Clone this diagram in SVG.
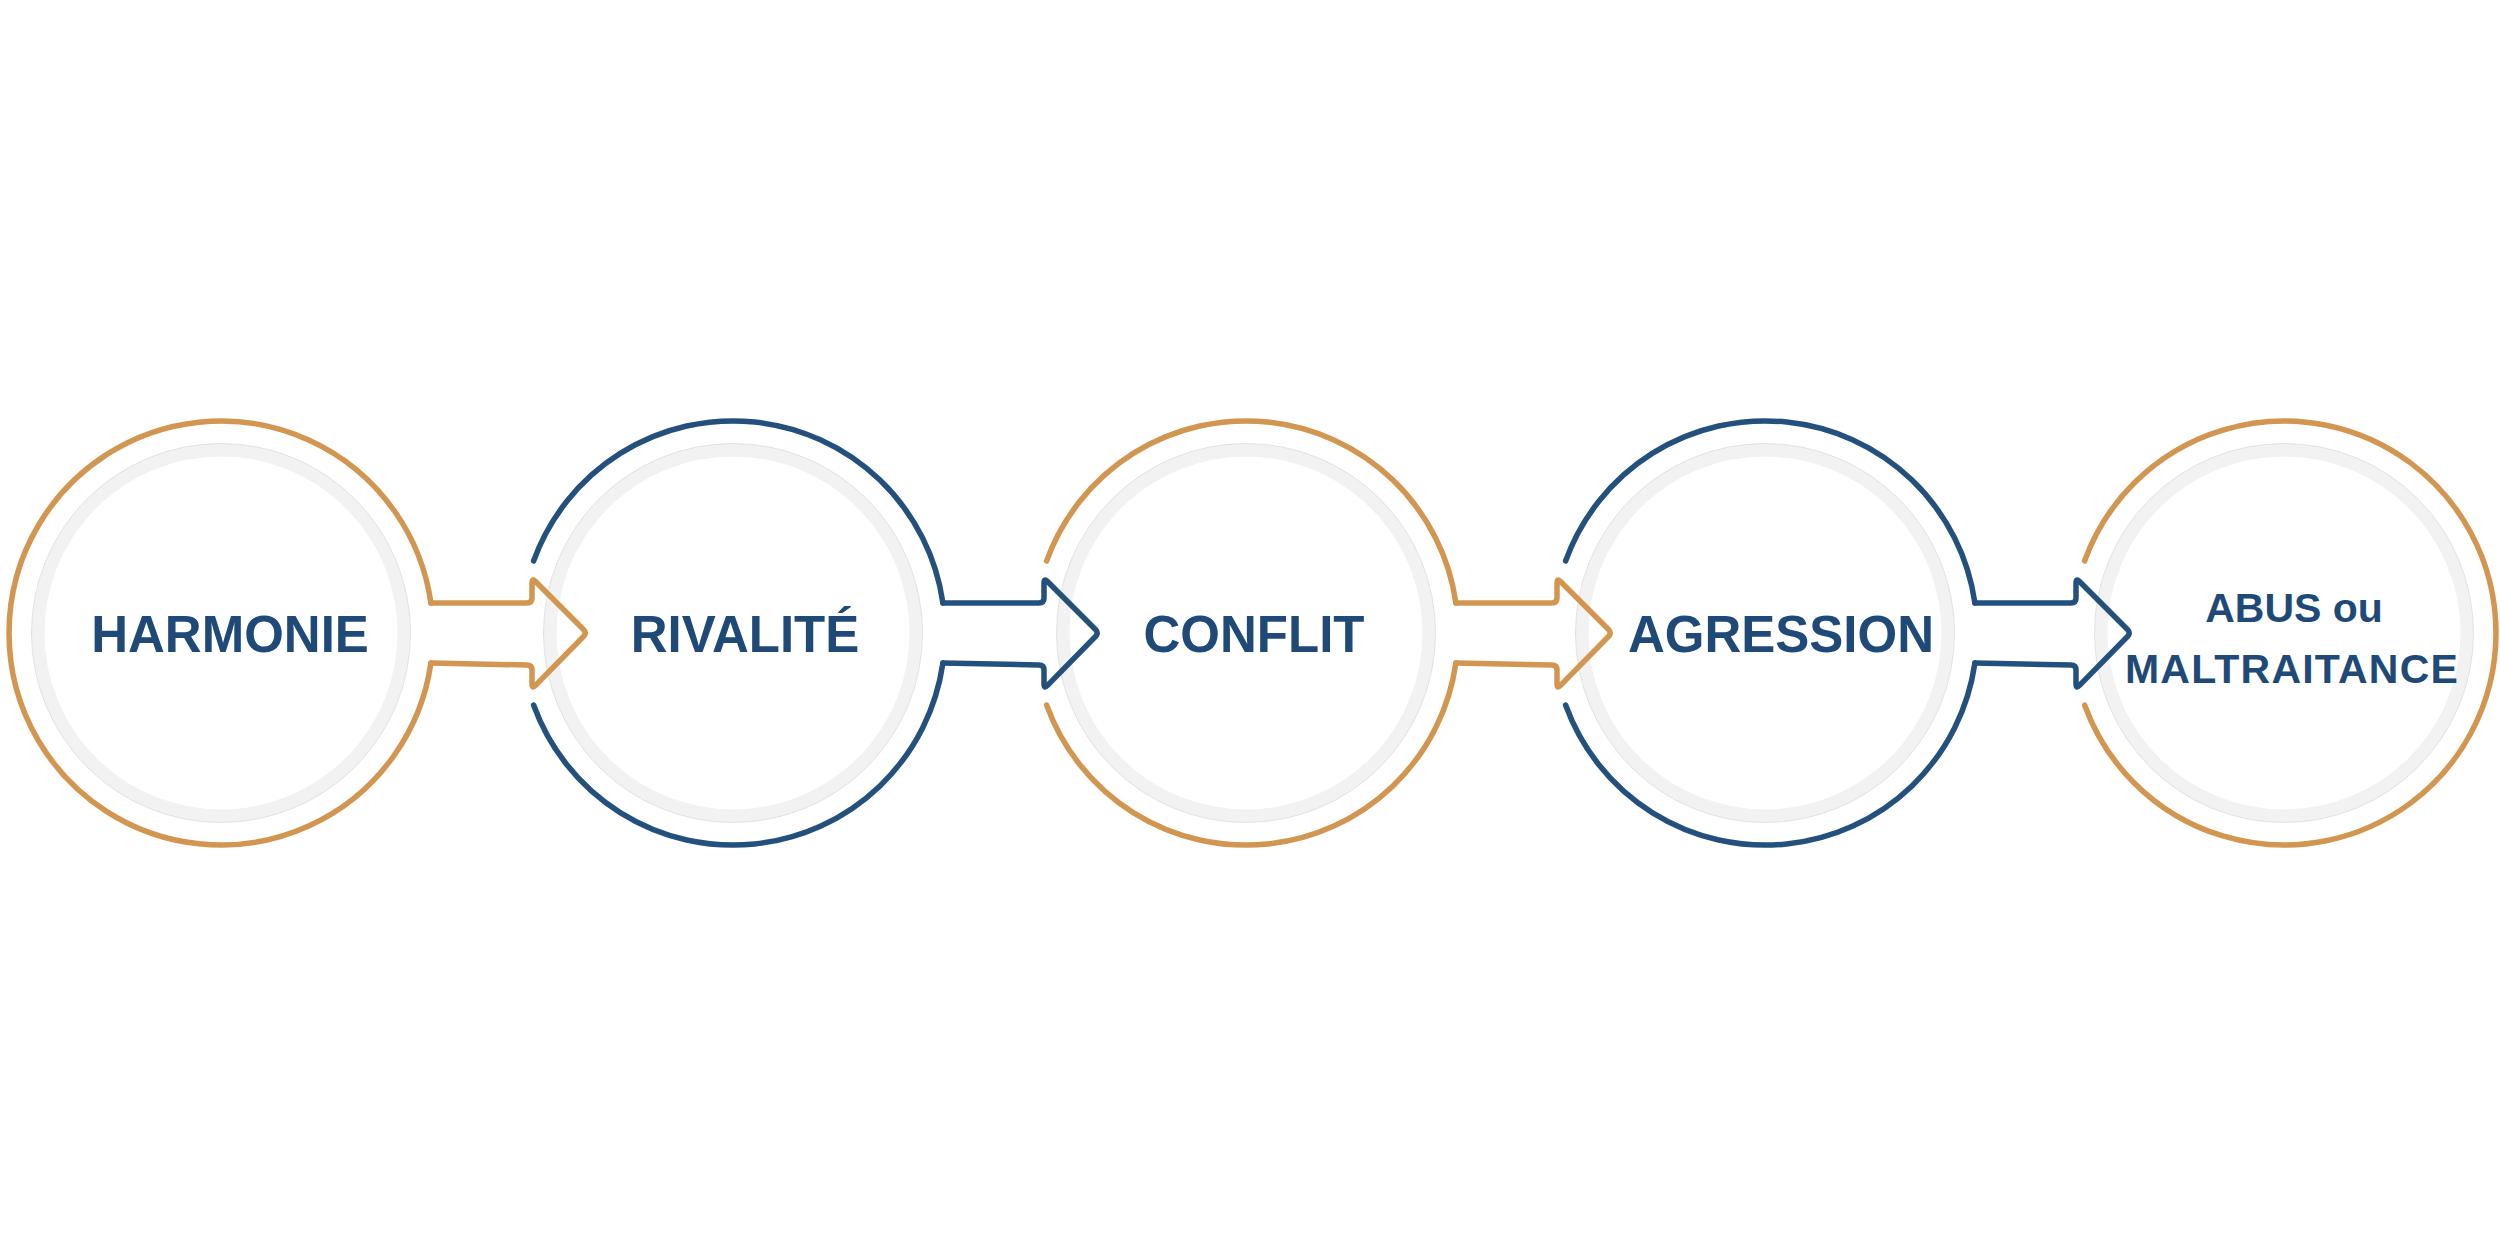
<svg xmlns="http://www.w3.org/2000/svg" width="2500" height="1250" viewBox="0 0 2500 1250">
<style>
.bg{fill:#ffffff}
.gray{fill:none;stroke:#f2f2f2;stroke-width:13}
.edge{fill:none;stroke:#dcdcdc;stroke-width:0.8}
.ring{fill:none;stroke-width:5.5;stroke-linecap:round;stroke-linejoin:round}
.or{stroke:#d39651}
.bl{stroke:#24507d}
.lbl{font-family:"Liberation Sans",Arial,sans-serif;font-weight:bold;font-size:51px;fill:#1f4a78;text-anchor:middle}
.lbl2{font-size:41px}
</style>
<rect class="bg" x="0" y="0" width="2500" height="1250"/>
<g id="node-harmonie">
<circle class="gray" cx="221" cy="633" r="183"/>
<circle class="edge" cx="221" cy="633" r="189.5"/>
<path class="ring or" d="M 430.9 663 A 212 212 0 1 1 430.9 603"/>
<text class="lbl" x="230" y="652">HARMONIE</text>
</g>
<g id="node-rivalite">
<circle class="gray" cx="733" cy="633" r="183"/>
<circle class="edge" cx="733" cy="633" r="189.5"/>
<path class="ring bl" d="M 533.6 561 A 212 212 0 0 1 942.9 603 M 942.9 663 A 212 212 0 0 1 533.6 705"/>
<text class="lbl" x="745" y="652">RIVALITÉ</text>
</g>
<g id="node-conflit">
<circle class="gray" cx="1246" cy="633" r="183"/>
<circle class="edge" cx="1246" cy="633" r="189.5"/>
<path class="ring or" d="M 1046.6 561 A 212 212 0 0 1 1455.9 603 M 1455.9 663 A 212 212 0 0 1 1046.6 705"/>
<text class="lbl" x="1254" y="652">CONFLIT</text>
</g>
<g id="node-agression">
<circle class="gray" cx="1765" cy="633" r="183"/>
<circle class="edge" cx="1765" cy="633" r="189.5"/>
<path class="ring bl" d="M 1565.6 561 A 212 212 0 0 1 1974.9 603 M 1974.9 663 A 212 212 0 0 1 1565.6 705"/>
<text class="lbl" x="1781" y="652">AGRESSION</text>
</g>
<g id="node-abus">
<circle class="gray" cx="2284" cy="633" r="183"/>
<circle class="edge" cx="2284" cy="633" r="189.5"/>
<path class="ring or" d="M 2084.6 561 A 212 212 0 1 1 2084.6 705"/>
<text class="lbl lbl2" x="2294" y="622">ABUS ou</text>
<text class="lbl lbl2" x="2292" y="683" letter-spacing="1.2">MALTRAITANCE</text>
</g>
<g id="connectors">
<path class="ring or" d="M 430.9 603 L 527 603 Q 532 603 532 598 L 532 583 Q 532 578 535.5 581.5 L 583.5 629.5 Q 587 633 583.5 636.5 L 535.5 685.4 Q 532 689 532 684 L 532 670 Q 532 665 527 665 L 430.9 663"/>
<path class="ring bl" d="M 942.9 603 L 1039 603 Q 1044 603 1044 598 L 1044 583 Q 1044 578 1047.5 581.5 L 1095.5 629.5 Q 1099 633 1095.5 636.5 L 1047.5 685.4 Q 1044 689 1044 684 L 1044 670 Q 1044 665 1039 665 L 942.9 663"/>
<path class="ring or" d="M 1455.9 603 L 1552 603 Q 1557 603 1557 598 L 1557 583 Q 1557 578 1560.5 581.5 L 1608.5 629.5 Q 1612 633 1608.5 636.5 L 1560.5 685.4 Q 1557 689 1557 684 L 1557 670 Q 1557 665 1552 665 L 1455.9 663"/>
<path class="ring bl" d="M 1974.9 603 L 2071 603 Q 2076 603 2076 598 L 2076 583 Q 2076 578 2079.5 581.5 L 2127.5 629.5 Q 2131 633 2127.5 636.5 L 2079.5 685.4 Q 2076 689 2076 684 L 2076 670 Q 2076 665 2071 665 L 1974.9 663"/>
</g>
</svg>
